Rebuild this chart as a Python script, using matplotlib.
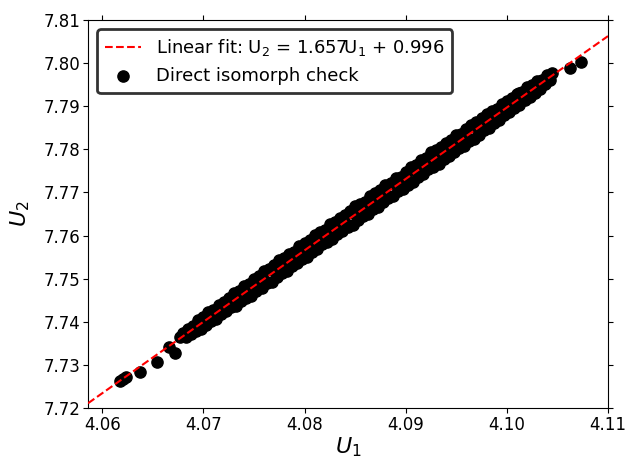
import matplotlib
matplotlib.use("Agg")
import matplotlib.pyplot as plt
import numpy as np

# Fit parameters (from legend)
fit_slope = 1.657
fit_intercept = 0.996

# Scatter points (upper edge of band)
u1_upper = [4.0680, 4.0685, 4.0690, 4.0695, 4.0700, 4.0705, 4.0710, 4.0715, 4.0720, 4.0725,
            4.0730, 4.0735, 4.0740, 4.0745, 4.0750, 4.0755, 4.0760, 4.0765, 4.0770, 4.0775,
            4.0780, 4.0785, 4.0790, 4.0795, 4.0800, 4.0805, 4.0810, 4.0815, 4.0820, 4.0825,
            4.0830, 4.0835, 4.0840, 4.0845, 4.0850, 4.0855, 4.0860, 4.0865, 4.0870, 4.0875,
            4.0880, 4.0885, 4.0890, 4.0895, 4.0900, 4.0905, 4.0910, 4.0915, 4.0920, 4.0925,
            4.0930, 4.0935, 4.0940, 4.0945, 4.0950, 4.0955, 4.0960, 4.0965, 4.0970, 4.0975,
            4.0980, 4.0985, 4.0990, 4.0995, 4.1000, 4.1005, 4.1010, 4.1015, 4.1020, 4.1025,
            4.1030, 4.1035, 4.1040]
u2_upper = [7.73738, 7.73840, 7.73913, 7.74036, 7.74109, 7.74222, 7.74265, 7.74398, 7.74450, 7.74543,
            7.74676, 7.74709, 7.74822, 7.74885, 7.74998, 7.75060, 7.75183, 7.75216, 7.75319, 7.75422,
            7.75475, 7.75578, 7.75630, 7.75763, 7.75816, 7.75889, 7.76002, 7.76075, 7.76128, 7.76270,
            7.76313, 7.76416, 7.76469, 7.76572, 7.76675, 7.76727, 7.76790, 7.76913, 7.76986, 7.77049,
            7.77172, 7.77225, 7.77327, 7.77370, 7.77483, 7.77586, 7.77629, 7.77742, 7.77805, 7.77927,
            7.77980, 7.78043, 7.78156, 7.78219, 7.78332, 7.78365, 7.78477, 7.78570, 7.78623, 7.78716,
            7.78829, 7.78892, 7.78944, 7.79047, 7.79110, 7.79183, 7.79286, 7.79339, 7.79442, 7.79484,
            7.79587, 7.79620, 7.79723]

# Lower edge of band
u1_lower = [4.06825, 4.06875, 4.06925, 4.06975, 4.07025, 4.07075, 4.07125, 4.07175, 4.07225, 4.07275,
            4.07325, 4.07375, 4.07425, 4.07475, 4.07525, 4.07575, 4.07625, 4.07675, 4.07725, 4.07775,
            4.07825, 4.07875, 4.07925, 4.07975, 4.08025, 4.08075, 4.08125, 4.08175, 4.08225, 4.08275,
            4.08325, 4.08375, 4.08425, 4.08475, 4.08525, 4.08575, 4.08625, 4.08675, 4.08725, 4.08775,
            4.08825, 4.08875, 4.08925, 4.08975, 4.09025, 4.09075, 4.09125, 4.09175, 4.09225, 4.09275,
            4.09325, 4.09375, 4.09425, 4.09475, 4.09525, 4.09575, 4.09625, 4.09675, 4.09725, 4.09775,
            4.09825, 4.09875, 4.09925, 4.09975, 4.10025, 4.10075, 4.10125, 4.10175, 4.10225, 4.10275,
            4.10325, 4.10375, 4.10425]
u2_lower = [7.73649, 7.73711, 7.73784, 7.73837, 7.73920, 7.74023, 7.74066, 7.74179, 7.74241, 7.74334,
            7.74367, 7.74480, 7.74543, 7.74606, 7.74719, 7.74781, 7.74894, 7.74927, 7.75040, 7.75133,
            7.75186, 7.75289, 7.75361, 7.75464, 7.75507, 7.75620, 7.75683, 7.75806, 7.75859, 7.75911,
            7.76034, 7.76097, 7.76210, 7.76253, 7.76356, 7.76448, 7.76511, 7.76624, 7.76657, 7.76770,
            7.76863, 7.76916, 7.77038, 7.77091, 7.77184, 7.77247, 7.77360, 7.77423, 7.77536, 7.77598,
            7.77661, 7.77774, 7.77837, 7.77930, 7.78033, 7.78086, 7.78188, 7.78241, 7.78344, 7.78447,
            7.78500, 7.78603, 7.78675, 7.78808, 7.78871, 7.78964, 7.79027, 7.79150, 7.79213, 7.79315,
            7.79408, 7.79521, 7.79614]

# Points in the middle of the band
u1_mid = [4.069, 4.070, 4.071, 4.072, 4.073, 4.074, 4.075, 4.076, 4.077, 4.078,
          4.079, 4.080, 4.081, 4.082, 4.083, 4.084, 4.085, 4.086, 4.087, 4.088,
          4.089, 4.090, 4.091, 4.092, 4.093, 4.094, 4.095, 4.096, 4.097, 4.098,
          4.099, 4.100, 4.101, 4.102, 4.103]
u2_mid = [7.73853, 7.73989, 7.74175, 7.74310, 7.74516, 7.74652, 7.74838, 7.74973, 7.75179, 7.75315,
          7.75500, 7.75636, 7.75842, 7.75978, 7.76163, 7.76299, 7.76505, 7.76640, 7.76826, 7.76962,
          7.77167, 7.77303, 7.77489, 7.77625, 7.77830, 7.77966, 7.78152, 7.78287, 7.78493, 7.78629,
          7.78814, 7.78960, 7.79146, 7.79282, 7.79477]

# Isolated points at the two ends
u1_ends = [4.0618, 4.0621, 4.0624, 4.0637, 4.0654, 4.0666, 4.0672, 4.0677, 4.1012, 4.1045, 4.1062, 4.1073]
u2_ends = [7.7262, 7.7267, 7.7273, 7.7284, 7.7307, 7.7342, 7.7328, 7.7365, 7.7930, 7.7978, 7.7988, 7.8003]

x_ticks = [4.06, 4.07, 4.08, 4.09, 4.10, 4.11]
y_ticks = [7.72, 7.73, 7.74, 7.75, 7.76, 7.77, 7.78, 7.79, 7.80, 7.81]
x_limits = (4.0586, 4.11)
y_limits = (7.72, 7.81)

u1_all = np.array(u1_upper + u1_lower + u1_mid + u1_ends)
u2_all = np.array(u2_upper + u2_lower + u2_mid + u2_ends)

fig = plt.figure(figsize=(6.27, 4.59), dpi=100)
ax = fig.add_axes([0.1404, 0.1111, 0.8293, 0.8453])

line_x = np.array(x_limits)
ax.plot(line_x, np.polyval([fit_slope, fit_intercept], line_x), '--', color='red',
        lw=1.5, zorder=3,
        label=r'Linear fit: U$_2$ = %.3fU$_1$ + %.3f' % (fit_slope, fit_intercept))
ax.scatter(u1_all, u2_all, s=65, color='black', zorder=2, label='Direct isomorph check')

ax.set_xlim(*x_limits)
ax.set_ylim(*y_limits)
ax.set_xticks(x_ticks)
ax.set_yticks(y_ticks)
ax.set_xticklabels(['%.2f' % v for v in x_ticks])
ax.set_yticklabels(['%.2f' % v for v in y_ticks])
ax.tick_params(labelsize=12, top=True, right=True, direction='out', length=3.5, pad=2)
ax.set_xlabel(r'$U_1$', fontsize=16, labelpad=1)
ax.set_ylabel(r'$U_2$', fontsize=16, labelpad=8)

leg = ax.legend(loc='upper left', fontsize=13, frameon=True, fancybox=True,
                framealpha=1, borderaxespad=0.5, handlelength=2.0, borderpad=0.45,
                labelspacing=0.5, handletextpad=0.8)
leg.get_frame().set_edgecolor('#333333')
leg.get_frame().set_linewidth(2)

fig.savefig('out.png', dpi=100)
